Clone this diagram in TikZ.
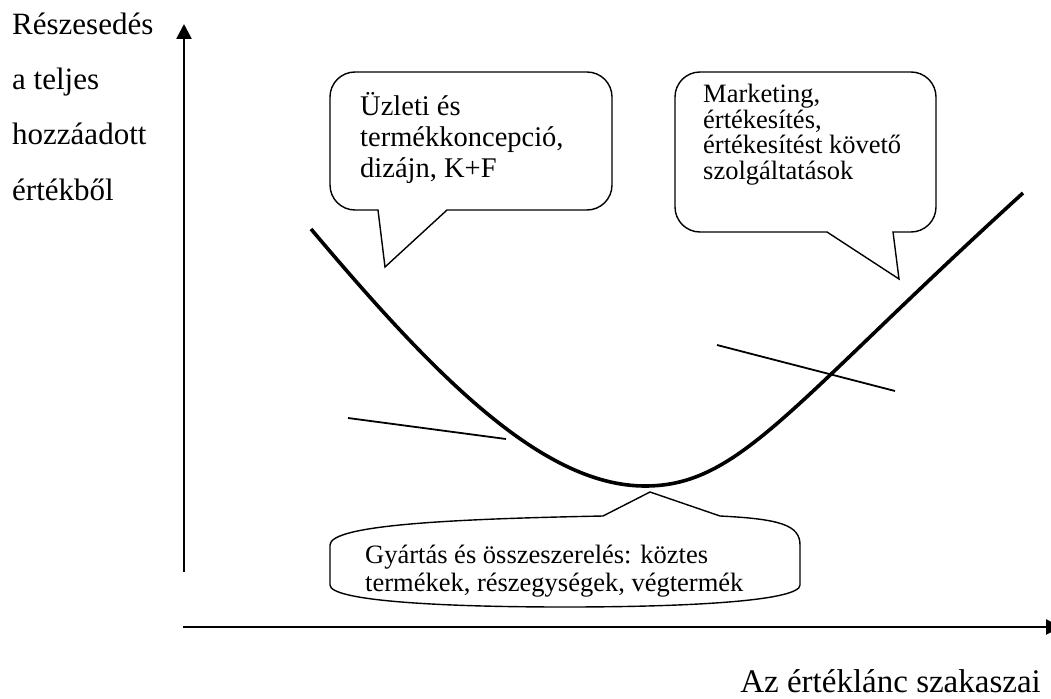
\documentclass[tikz,border=0pt]{standalone}
\usepackage{fontspec}
\setmainfont{Liberation Serif}
\usetikzlibrary{arrows.meta}

\tikzset{
    axis/.style={line width=2.6pt, -{Triangle[length=15pt,width=15pt]}},
    bubble/.style={line width=1.4pt},
    label/.style={inner sep=0pt, anchor=base west, align=left},
}

\begin{document}
\begin{tikzpicture}[x=1pt,y=-1pt]
        \useasboundingbox (0,0) rectangle (1051,698);

        \coordinate (yfoot) at (184,572);
        \coordinate (ytip) at (184,24);
        \coordinate (xfoot) at (183,627);
        \coordinate (xtip) at (1061,627);
        \draw[axis] (yfoot) -- (ytip);
        \draw[axis] (xfoot) -- (xtip);

        % base of a node = baseline of its last line
        \node[label, font=\fontsize{31}{55.3}\selectfont] (share) at (12,200)
            {Részesedés\\a teljes\\hozzáadott\\értékből};
        \node[label, anchor=base east, font=\fontsize{33}{36}\selectfont] (stages) at (1041,692)
            {Az értéklánc szakaszai};

        % the smile curve
        \coordinate (left) at (311,229);
        \coordinate (bottom) at (645,486);
        \coordinate (right) at (1023,193);
        \draw[line width=3.6pt] (left) .. controls (430,370) and (540,486) .. (bottom)
            .. controls (740,486) and (790,405) .. (right);

        \draw[line width=1.8pt] (348,418) -- (506,439);
        \draw[line width=1.8pt] (717,345) -- (895,391);

        % callouts
        \draw[bubble] (385,267) -- (447,210) [rounded corners=25pt] -- (612,210)
            -- (612,72) -- (330,72) -- (330,210) [sharp corners] -- (378,210) -- cycle;
        \node[label, font=\fontsize{28.5}{31}\selectfont] (design) at (360,177)
            {Üzleti és\\termékkoncepció,\\dizájn, K+F};

        \draw[bubble] (899,279) -- (893,232) [rounded corners=25pt] -- (936,232)
            -- (936,72) -- (675,72) -- (675,232) [sharp corners] -- (827,232) -- cycle;
        \node[label, font=\fontsize{26.5}{25.5}\selectfont] (marketing) at (703,179)
            {Marketing,\\értékesítés,\\értékesítést követő\\szolgáltatások};

        \draw[bubble] (650,492) -- (720,516) .. controls (780,519) and (800,525) .. (800,545)
            -- (800,585) .. controls (800,600) and (700,607) .. (565,607)
            .. controls (430,607) and (330,600) .. (330,585) -- (330,545)
            .. controls (330,525) and (450,519) .. (603,516) -- cycle;
        \node[label, font=\fontsize{26.5}{27.5}\selectfont] (production) at (365,591)
            {Gyártás és összeszerelés: köztes\\termékek, részegységek, végtermék};

    \end{tikzpicture}
\end{document}
